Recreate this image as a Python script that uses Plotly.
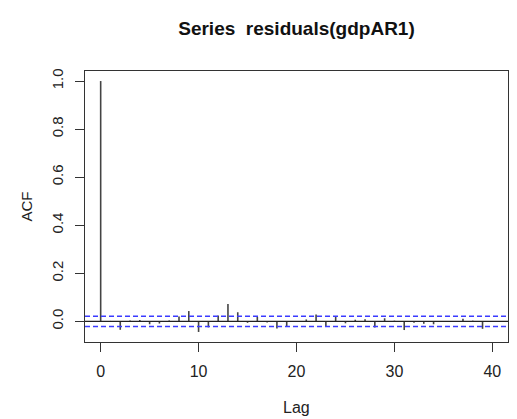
import plotly.graph_objects as go

# ---- data ----
lags = list(range(0, 41))
acf_values = [1.000, 0.002, -0.035, 0.004, 0.006, -0.012, -0.009, 0.004, 0.020, 0.043,
              -0.044, -0.025, 0.025, 0.072, 0.038, -0.006, 0.019, -0.005, -0.030, -0.023,
              -0.002, 0.008, 0.029, -0.020, 0.020, -0.008, 0.007, 0.009, -0.025, 0.013,
              0.003, -0.036, -0.006, -0.010, -0.012, -0.002, 0.001, 0.011, 0.003, -0.031,
              -0.002]
conf_limit = 0.021
x_ticks = [0, 10, 20, 30, 40]
y_ticks = [0.0, 0.2, 0.4, 0.6, 0.8, 1.0]
y_tick_labels = ["0.0", "0.2", "0.4", "0.6", "0.8", "1.0"]
title_text = "Series  residuals(gdpAR1)"

# R-style axis limits (4% extension)
xmin, xmax = min(lags), max(lags)
ymin = min(min(acf_values), -conf_limit)
ymax = max(max(acf_values), conf_limit)
xpad = 0.04 * (xmax - xmin)
ypad = 0.04 * (ymax - ymin)

# build vertical segments
seg_x, seg_y = [], []
for k, v in zip(lags, acf_values):
    seg_x += [k, k, None]
    seg_y += [0, v, None]

FONT = "Liberation Sans, Arial, sans-serif"
fig = go.Figure()
fig.add_trace(go.Scatter(x=seg_x, y=seg_y, mode="lines",
                         line=dict(color="#444444", width=1.6),
                         hoverinfo="skip", showlegend=False))

# zero line and confidence bands
fig.add_shape(type="line", xref="paper", x0=0, x1=1, yref="y", y0=0, y1=0,
              line=dict(color="#222222", width=1.3))
for c in (conf_limit, -conf_limit):
    fig.add_shape(type="line", xref="paper", x0=0, x1=1, yref="y", y0=c, y1=c,
                  line=dict(color="#3b3bff", width=1.5, dash="5px,3px"))

fig.update_layout(
    width=517, height=419,
    margin=dict(l=85, r=9, t=71, b=77, autoexpand=False),
    paper_bgcolor="white", plot_bgcolor="white",
    font=dict(family=FONT, color="#222222"),
    title=dict(text="<b>" + title_text + "</b>", x=(85 + 508) / 2 / 517, xanchor="center",
               y=1 - 28 / 419, yanchor="middle", yref="container", automargin=False,
               font=dict(size=19, family=FONT, color="#111111")),
    showlegend=False,
)
fig.update_xaxes(range=[xmin - xpad, xmax + xpad], tickvals=x_ticks,
                 ticks="outside", ticklen=9, tickwidth=1.3, tickcolor="#333333",
                 showline=True, mirror=True, linecolor="#333333", linewidth=1.3,
                 showgrid=False, zeroline=False, automargin=False,
                 tickfont=dict(size=16, color="#222222"), ticklabelstandoff=6)
fig.update_yaxes(range=[ymin - ypad, ymax + ypad], tickvals=y_ticks, ticktext=y_tick_labels,
                 tickangle=-90, automargin=False,
                 ticks="outside", ticklen=9, tickwidth=1.3, tickcolor="#333333",
                 showline=True, mirror=True, linecolor="#333333", linewidth=1.3,
                 showgrid=False, zeroline=False,
                 tickfont=dict(size=15, color="#222222"), ticklabelstandoff=6)

fig.add_annotation(text="Lag", xref="paper", yref="paper",
                   x=0.5, y=(341.7 - 407) / 271, xanchor="center", yanchor="middle",
                   showarrow=False, font=dict(size=16, family=FONT, color="#222222"))
fig.add_annotation(text="ACF", xref="paper", yref="paper",
                   x=(26 - 85) / 423, y=0.5, xanchor="center", yanchor="middle",
                   textangle=-90, showarrow=False,
                   font=dict(size=15, family=FONT, color="#222222"))

fig.write_html("out.html", config={"displayModeBar": False},
               post_script="document.body.style.margin='0';document.body.style.overflow='hidden';")
